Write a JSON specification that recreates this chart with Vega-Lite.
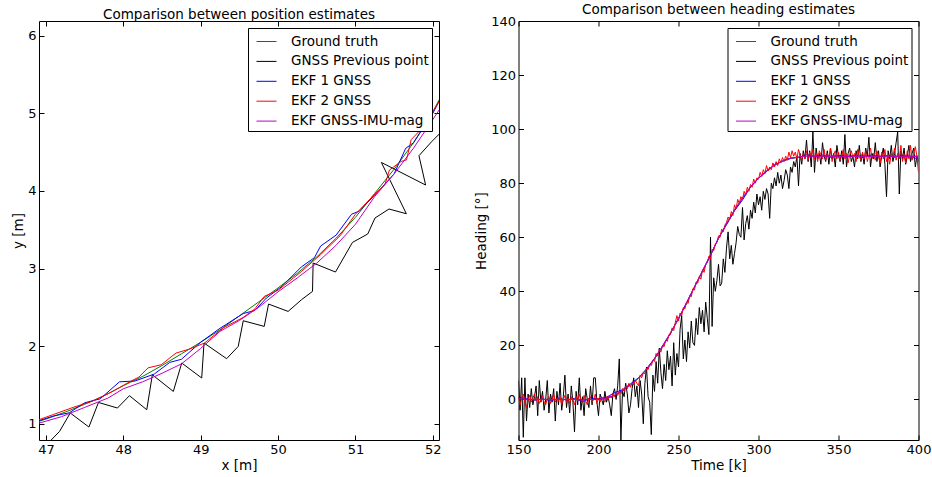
{
"$schema": "https://vega.github.io/schema/vega-lite/v6.json",
"padding": {"left": 10, "top": 2, "right": 5, "bottom": 5},
"background": "white",
"config": {
  "font": "DejaVu Sans",
  "view": {"stroke": "black", "strokeWidth": 1},
  "axis": {"domain": false, "grid": false, "tickColor": "black", "tickSize": -5, "tickWidth": 1, "labelPadding": 8, "labelFontSize": 13, "labelColor": "black", "labelFont": "DejaVu Sans", "titleFont": "DejaVu Sans", "titleFontSize": 13.5, "titleFontWeight": "normal", "titleColor": "black", "titlePadding": 2.5, "labelFlush": false, "labelOverlap": false},
  "title": {"fontSize": 13.5, "fontWeight": "normal", "color": "black", "font": "DejaVu Sans", "offset": -1, "frame": "group", "baseline": "alphabetic"},
  "legend": {"orient": "top-right", "offset": 7, "padding": 3, "rowPadding": 2.9, "symbolType": "stroke", "symbolSize": 400, "symbolStrokeWidth": 1, "symbolOffset": 5, "labelOffset": 14, "labelFontSize": 13.5, "labelFont": "DejaVu Sans", "labelColor": "black", "strokeColor": "black", "fillColor": "white", "cornerRadius": 0, "title": null}
},
"spacing": 28.5,
"resolve": {"scale": {"color": "independent"}, "legend": {"color": "independent"}},
"hconcat": [
{
  "width": 400, "height": 419,
  "title": "Comparison between position estimates",
  "data": {"values": [
    {"s":"g","i":0,"x":46.85,"y":1.01},{"s":"g","i":1,"x":47.0,"y":1.06},{"s":"g","i":2,"x":47.25,"y":1.15},{"s":"g","i":3,"x":47.5,"y":1.25},{"s":"g","i":4,"x":47.75,"y":1.36},{"s":"g","i":5,"x":48.0,"y":1.49},{"s":"g","i":6,"x":48.25,"y":1.61},{"s":"g","i":7,"x":48.5,"y":1.75},{"s":"g","i":8,"x":48.75,"y":1.9},{"s":"g","i":9,"x":49.0,"y":2.05},{"s":"g","i":10,"x":49.25,"y":2.21},{"s":"g","i":11,"x":49.5,"y":2.39},{"s":"g","i":12,"x":49.75,"y":2.57},{"s":"g","i":13,"x":50.0,"y":2.75},{"s":"g","i":14,"x":50.25,"y":2.94},{"s":"g","i":15,"x":50.5,"y":3.15},{"s":"g","i":16,"x":50.75,"y":3.39},{"s":"g","i":17,"x":51.0,"y":3.66},{"s":"g","i":18,"x":51.25,"y":3.97},{"s":"g","i":19,"x":51.5,"y":4.28},{"s":"g","i":20,"x":51.75,"y":4.62},{"s":"g","i":21,"x":52.0,"y":5.02},{"s":"g","i":22,"x":52.15,"y":5.3},
    {"s":"k","i":30,"x":46.98,"y":0.7},{"s":"k","i":31,"x":47.175,"y":0.9},{"s":"k","i":32,"x":47.314,"y":1.138},{"s":"k","i":33,"x":47.555,"y":0.957},{"s":"k","i":34,"x":47.679,"y":1.274},{"s":"k","i":35,"x":47.924,"y":1.202},{"s":"k","i":36,"x":48.079,"y":1.361},{"s":"k","i":37,"x":48.303,"y":1.18},{"s":"k","i":38,"x":48.375,"y":1.631},{"s":"k","i":39,"x":48.646,"y":1.416},{"s":"k","i":40,"x":48.755,"y":1.782},{"s":"k","i":41,"x":49.013,"y":1.589},{"s":"k","i":42,"x":49.043,"y":2.04},{"s":"k","i":43,"x":49.335,"y":1.838},{"s":"k","i":44,"x":49.485,"y":1.996},{"s":"k","i":45,"x":49.55,"y":2.327},{"s":"k","i":46,"x":49.821,"y":2.254},{"s":"k","i":47,"x":49.877,"y":2.542},{"s":"k","i":48,"x":50.13,"y":2.447},{"s":"k","i":49,"x":50.303,"y":2.598},{"s":"k","i":50,"x":50.445,"y":2.705},{"s":"k","i":51,"x":50.453,"y":3.071},{"s":"k","i":52,"x":50.742,"y":2.955},{"s":"k","i":53,"x":50.961,"y":3.336},{"s":"k","i":54,"x":51.159,"y":3.445},{"s":"k","i":55,"x":51.253,"y":3.651},{"s":"k","i":56,"x":51.434,"y":3.767},{"s":"k","i":57,"x":51.658,"y":3.706},{"s":"k","i":58,"x":51.335,"y":4.367},{"s":"k","i":59,"x":51.907,"y":4.076},{"s":"k","i":60,"x":51.821,"y":4.454},{"s":"k","i":61,"x":51.988,"y":4.638},{"s":"k","i":62,"x":52.1,"y":4.75},
    {"s":"b","i":70,"x":46.85,"y":1.02},{"s":"b","i":71,"x":47.1,"y":1.1},{"s":"b","i":72,"x":47.3,"y":1.14},{"s":"b","i":73,"x":47.5,"y":1.27},{"s":"b","i":74,"x":47.7,"y":1.32},{"s":"b","i":75,"x":47.95,"y":1.54},{"s":"b","i":76,"x":48.15,"y":1.55},{"s":"b","i":77,"x":48.4,"y":1.64},{"s":"b","i":78,"x":48.6,"y":1.79},{"s":"b","i":79,"x":48.75,"y":1.83},{"s":"b","i":80,"x":49.0,"y":2.05},{"s":"b","i":81,"x":49.25,"y":2.23},{"s":"b","i":82,"x":49.55,"y":2.42},{"s":"b","i":83,"x":49.7,"y":2.46},{"s":"b","i":84,"x":49.85,"y":2.62},{"s":"b","i":85,"x":50.05,"y":2.77},{"s":"b","i":86,"x":50.3,"y":3.02},{"s":"b","i":87,"x":50.47,"y":3.14},{"s":"b","i":88,"x":50.55,"y":3.29},{"s":"b","i":89,"x":50.75,"y":3.43},{"s":"b","i":90,"x":50.95,"y":3.7},{"s":"b","i":91,"x":51.05,"y":3.74},{"s":"b","i":92,"x":51.3,"y":4.0},{"s":"b","i":93,"x":51.5,"y":4.22},{"s":"b","i":94,"x":51.65,"y":4.55},{"s":"b","i":95,"x":51.75,"y":4.62},{"s":"b","i":96,"x":52.0,"y":5.0},{"s":"b","i":97,"x":52.12,"y":5.23},
    {"s":"r","i":100,"x":46.85,"y":1.03},{"s":"r","i":101,"x":47.1,"y":1.12},{"s":"r","i":102,"x":47.35,"y":1.21},{"s":"r","i":103,"x":47.6,"y":1.29},{"s":"r","i":104,"x":47.85,"y":1.41},{"s":"r","i":105,"x":48.1,"y":1.55},{"s":"r","i":106,"x":48.2,"y":1.6},{"s":"r","i":107,"x":48.32,"y":1.72},{"s":"r","i":108,"x":48.49,"y":1.76},{"s":"r","i":109,"x":48.68,"y":1.91},{"s":"r","i":110,"x":48.85,"y":1.96},{"s":"r","i":111,"x":49.05,"y":2.04},{"s":"r","i":112,"x":49.3,"y":2.24},{"s":"r","i":113,"x":49.55,"y":2.37},{"s":"r","i":114,"x":49.7,"y":2.48},{"s":"r","i":115,"x":49.82,"y":2.64},{"s":"r","i":116,"x":50.0,"y":2.72},{"s":"r","i":117,"x":50.2,"y":2.88},{"s":"r","i":118,"x":50.3,"y":2.96},{"s":"r","i":119,"x":50.55,"y":3.18},{"s":"r","i":120,"x":50.8,"y":3.42},{"s":"r","i":121,"x":51.0,"y":3.7},{"s":"r","i":122,"x":51.25,"y":3.96},{"s":"r","i":123,"x":51.38,"y":4.08},{"s":"r","i":124,"x":51.44,"y":4.27},{"s":"r","i":125,"x":51.59,"y":4.38},{"s":"r","i":126,"x":51.66,"y":4.4},{"s":"r","i":127,"x":51.72,"y":4.66},{"s":"r","i":128,"x":51.9,"y":4.85},{"s":"r","i":129,"x":52.12,"y":5.22},
    {"s":"m","i":130,"x":46.85,"y":0.99},{"s":"m","i":131,"x":47.2,"y":1.09},{"s":"m","i":132,"x":47.5,"y":1.21},{"s":"m","i":133,"x":47.8,"y":1.33},{"s":"m","i":134,"x":48.0,"y":1.45},{"s":"m","i":135,"x":48.25,"y":1.54},{"s":"m","i":136,"x":48.5,"y":1.65},{"s":"m","i":137,"x":48.75,"y":1.77},{"s":"m","i":138,"x":49.0,"y":1.97},{"s":"m","i":139,"x":49.25,"y":2.19},{"s":"m","i":140,"x":49.5,"y":2.33},{"s":"m","i":141,"x":49.75,"y":2.5},{"s":"m","i":142,"x":50.0,"y":2.7},{"s":"m","i":143,"x":50.25,"y":2.88},{"s":"m","i":144,"x":50.5,"y":3.07},{"s":"m","i":145,"x":50.75,"y":3.3},{"s":"m","i":146,"x":51.0,"y":3.57},{"s":"m","i":147,"x":51.25,"y":3.93},{"s":"m","i":148,"x":51.5,"y":4.22},{"s":"m","i":149,"x":51.75,"y":4.55},{"s":"m","i":150,"x":52.0,"y":4.92},{"s":"m","i":151,"x":52.12,"y":5.1}
  ]},
  "layer": [
    {"mark": {"type": "line", "strokeWidth": 1, "clip": true},
     "encoding": {
       "x": {"field": "x", "type": "quantitative", "scale": {"domain": [46.91, 52.08], "nice": false, "zero": false}, "axis": {"title": "x [m]", "values": [47,48,49,50,51,52], "format": "d"}},
       "y": {"field": "y", "type": "quantitative", "scale": {"domain": [0.79, 6.19], "nice": false, "zero": false}, "axis": {"title": "y [m]", "values": [1,2,3,4,5,6], "format": "d"}},
       "color": {"field": "s", "type": "nominal", "scale": {"domain": ["g","k","b","r","m"], "range": ["#008000","#000000","#0000ff","#ff0000","#bf00bf"]},
                 "legend": {"labelExpr": "datum.label == 'g' ? 'Ground truth' : datum.label == 'k' ? 'GNSS Previous point' : datum.label == 'b' ? 'EKF 1 GNSS' : datum.label == 'r' ? 'EKF 2 GNSS' : 'EKF GNSS-IMU-mag'"}},
       "order": {"field": "i", "type": "quantitative"}
     }},
    {"mark": {"type": "line", "opacity": 0},
     "encoding": {
       "x": {"field": "x", "type": "quantitative", "axis": {"orient": "top", "labels": false, "title": null, "values": [47,48,49,50,51,52]}},
       "y": {"field": "y", "type": "quantitative", "axis": {"orient": "right", "labels": false, "title": null, "values": [1,2,3,4,5,6]}}
     }}
  ],
  "resolve": {"axis": {"x": "independent", "y": "independent"}}
},
{
  "width": 400, "height": 419,
  "title": "Comparison between heading estimates",
  "layer": [
    {
      "layer": [
        {"data": {"name": "hs"}, "mark": {"type": "line", "strokeWidth": 1, "clip": true},
         "encoding": {"x": {"field": "t", "type": "quantitative"}, "y": {"field": "g", "type": "quantitative"}, "color": {"datum": "Ground truth"}}},
        {"data": {"name": "hd"}, "mark": {"type": "line", "strokeWidth": 1, "clip": true},
         "encoding": {"x": {"field": "t", "type": "quantitative"}, "y": {"field": "k", "type": "quantitative"}, "color": {"datum": "GNSS Previous point"}}},
        {"data": {"name": "hs"}, "mark": {"type": "line", "strokeWidth": 1, "clip": true},
         "encoding": {"x": {"field": "t", "type": "quantitative"}, "y": {"field": "b", "type": "quantitative"}, "color": {"datum": "EKF 1 GNSS"}}},
        {"data": {"name": "hd"}, "mark": {"type": "line", "strokeWidth": 1, "clip": true},
         "encoding": {"x": {"field": "t", "type": "quantitative"}, "y": {"field": "r", "type": "quantitative"}, "color": {"datum": "EKF 2 GNSS"}}},
        {"data": {"name": "hs"}, "mark": {"type": "line", "strokeWidth": 1, "clip": true},
         "encoding": {"x": {"field": "t", "type": "quantitative", "scale": {"domain": [150, 400], "nice": false, "zero": false}, "axis": {"title": "Time [k]", "values": [150,200,250,300,350,400], "format": "d"}},
                      "y": {"field": "m", "type": "quantitative", "scale": {"domain": [-15, 140], "nice": false, "zero": false}, "axis": {"title": "Heading [°]", "values": [0,20,40,60,80,100,120,140], "format": "d"}},
                      "color": {"datum": "EKF GNSS-IMU-mag", "type": "nominal", "scale": {"domain": ["Ground truth","GNSS Previous point","EKF 1 GNSS","EKF 2 GNSS","EKF GNSS-IMU-mag"], "range": ["#008000","#000000","#0000ff","#ff0000","#bf00bf"]}, "legend": {}}}}
      ]
    },
    {"data": {"name": "hs"}, "mark": {"type": "line", "opacity": 0},
     "encoding": {
       "x": {"field": "t", "type": "quantitative", "axis": {"orient": "top", "labels": false, "title": null, "values": [150,200,250,300,350,400]}},
       "y": {"field": "m", "type": "quantitative", "axis": {"orient": "right", "labels": false, "title": null, "values": [0,20,40,60,80,100,120,140]}}
     }}
  ],
  "resolve": {"axis": {"x": "independent", "y": "independent"}}
}
],
"datasets": {
"hs": [
{"t":150,"g":0,"b":0.8,"m":0.2},{"t":155,"g":0,"b":0.3,"m":0.1},{"t":160,"g":0,"b":-0.3,"m":0},{"t":165,"g":0,"b":0.2,"m":0},{"t":170,"g":0,"b":-0.4,"m":0},{"t":175,"g":0,"b":0.3,"m":0},{"t":180,"g":0,"b":-0.2,"m":0},{"t":185,"g":0,"b":0.4,"m":0},{"t":190,"g":0,"b":-0.8,"m":-0.2},{"t":195,"g":0,"b":0.5,"m":0},{"t":200,"g":0,"b":0.2,"m":0},{"t":205,"g":0.3,"b":0.8,"m":0.5},{"t":210,"g":1.5,"b":2.5,"m":1.6},{"t":215,"g":3.3,"b":3.6,"m":3.3},{"t":220,"g":5.3,"b":5.8,"m":5.4},{"t":225,"g":7.8,"b":8.0,"m":7.9},{"t":230,"g":11,"b":11.3,"m":11.1},{"t":235,"g":15,"b":15.2,"m":15.1},{"t":240,"g":19.5,"b":19.8,"m":19.6},{"t":245,"g":24.5,"b":24.6,"m":24.6},{"t":250,"g":29.8,"b":30,"m":29.9},{"t":255,"g":35.5,"b":35.8,"m":35.6},{"t":260,"g":41.5,"b":41.7,"m":41.6},{"t":265,"g":47.5,"b":47.5,"m":47.6},{"t":270,"g":53.5,"b":53.2,"m":53.6},{"t":275,"g":59.5,"b":59.8,"m":59.6},{"t":280,"g":65,"b":64.6,"m":65.1},{"t":285,"g":70,"b":69.8,"m":70.1},{"t":290,"g":74.5,"b":73.8,"m":74.6},{"t":295,"g":78.5,"b":78.6,"m":78.6},{"t":300,"g":81.8,"b":81.8,"m":81.9},{"t":305,"g":84.5,"b":84.3,"m":84.6},{"t":310,"g":86.6,"b":86.8,"m":86.7},{"t":315,"g":88.1,"b":88.2,"m":88.2},{"t":320,"g":89.1,"b":89.3,"m":89.2},{"t":325,"g":89.7,"b":89.5,"m":89.7},{"t":330,"g":90,"b":90.6,"m":90},{"t":335,"g":90,"b":89.8,"m":89.9},{"t":340,"g":90,"b":90.4,"m":89.9},{"t":345,"g":90,"b":89.6,"m":89.9},{"t":350,"g":90,"b":90.3,"m":89.9},{"t":355,"g":90,"b":89.7,"m":89.9},{"t":360,"g":90,"b":90.2,"m":89.9},{"t":365,"g":90,"b":89.5,"m":89.9},{"t":370,"g":90,"b":90.4,"m":89.9},{"t":375,"g":90,"b":89.8,"m":89.9},{"t":380,"g":90,"b":90.2,"m":89.9},{"t":385,"g":90,"b":89.6,"m":89.9},{"t":390,"g":90,"b":90.3,"m":89.9},{"t":395,"g":90,"b":89.7,"m":89.9},{"t":400,"g":90,"b":89,"m":89.9}
],
"hd": [
{"t":150,"k":7,"r":1},{"t":151,"k":-4,"r":-2},{"t":152,"k":8,"r":0.5},{"t":153,"k":-14,"r":2},{"t":154,"k":8,"r":-1},{"t":155,"k":-8,"r":-3},{"t":156,"k":2,"r":0},{"t":157,"k":-3,"r":1.5},{"t":158,"k":4,"r":-1},{"t":159,"k":-2,"r":0.5},
{"t":160,"k":1,"r":2},{"t":161,"k":5,"r":-0.5},{"t":162,"k":-6,"r":1},{"t":163,"k":7,"r":-1.5},{"t":164,"k":-1,"r":0},{"t":165,"k":3,"r":1.5},{"t":166,"k":-4,"r":-1},{"t":167,"k":0,"r":-2},{"t":168,"k":7,"r":0.5},{"t":169,"k":-5,"r":1},
{"t":170,"k":2,"r":-1.5},{"t":171,"k":-1,"r":0},{"t":172,"k":4,"r":2},{"t":173,"k":-8,"r":-1},{"t":174,"k":3,"r":0.5},{"t":175,"k":-2,"r":-0.5},{"t":176,"k":6,"r":1},{"t":177,"k":-4,"r":-2},{"t":178,"k":1,"r":0},{"t":179,"k":9,"r":1.5},
{"t":180,"k":-3,"r":-1},{"t":181,"k":2,"r":0.5},{"t":182,"k":-5,"r":-1.5},{"t":183,"k":5,"r":1},{"t":184,"k":-1,"r":0},{"t":185,"k":-12,"r":-2},{"t":186,"k":3,"r":1},{"t":187,"k":-2,"r":-0.5},{"t":188,"k":8,"r":2},{"t":189,"k":-4,"r":0},
{"t":190,"k":1,"r":-1},{"t":191,"k":-6,"r":1.5},{"t":192,"k":4,"r":-0.5},{"t":193,"k":0,"r":-2},{"t":194,"k":-3,"r":0.5},{"t":195,"k":5,"r":1},{"t":196,"k":-2,"r":-1},{"t":197,"k":8,"r":0},{"t":198,"k":8,"r":2},{"t":199,"k":-1,"r":-1.5},
{"t":200,"k":-6,"r":0.5},{"t":201,"k":2,"r":-1},{"t":202,"k":0,"r":1},{"t":203,"k":-2,"r":0},{"t":204,"k":3,"r":-1},{"t":205,"k":-1,"r":1},{"t":206,"k":1,"r":0},{"t":207,"k":-2,"r":1.5},{"t":208,"k":-6,"r":0.5},{"t":209,"k":2,"r":2},
{"t":210,"k":4,"r":1},{"t":211,"k":0,"r":2.5},{"t":212,"k":5,"r":1.5},{"t":213,"k":15,"r":3},{"t":214,"k":-15,"r":2},{"t":215,"k":3,"r":4},{"t":216,"k":1,"r":3},{"t":217,"k":6,"r":5},{"t":218,"k":2,"r":4},{"t":219,"k":-5,"r":6},
{"t":220,"k":-2,"r":4.5},{"t":221,"k":4,"r":6},{"t":222,"k":8,"r":5.5},{"t":223,"k":1,"r":7},{"t":224,"k":5,"r":6},{"t":225,"k":-3,"r":5},{"t":226,"k":7,"r":9},{"t":227,"k":2,"r":8},{"t":228,"k":-9,"r":10},{"t":229,"k":6,"r":9.5},
{"t":230,"k":12,"r":11.5},{"t":231,"k":1,"r":11},{"t":232,"k":-1,"r":13},{"t":233,"k":-13,"r":12.5},{"t":234,"k":9,"r":14.5},{"t":235,"k":3,"r":14},{"t":236,"k":14,"r":17},{"t":237,"k":6,"r":16},{"t":238,"k":19,"r":18.5},{"t":239,"k":10,"r":17.5},
{"t":240,"k":4,"r":20},{"t":241,"k":13,"r":19.5},{"t":242,"k":7,"r":22},{"t":243,"k":18,"r":21.5},{"t":244,"k":11,"r":24},{"t":245,"k":16,"r":24},{"t":246,"k":5,"r":26.5},{"t":247,"k":21,"r":25.5},{"t":248,"k":9,"r":28.5},{"t":249,"k":17,"r":31},
{"t":250,"k":12,"r":29},{"t":251,"k":26,"r":32},{"t":252,"k":31,"r":31},{"t":253,"k":15,"r":34},{"t":254,"k":22,"r":33.5},{"t":255,"k":14,"r":36},{"t":256,"k":25,"r":35.5},{"t":257,"k":19,"r":38.5},{"t":258,"k":29,"r":38},{"t":259,"k":21,"r":41},
{"t":260,"k":20,"r":40.5},{"t":261,"k":30,"r":43.5},{"t":262,"k":24,"r":43},{"t":263,"k":34,"r":45.5},{"t":264,"k":28,"r":44.5},{"t":265,"k":33,"r":48},{"t":266,"k":25,"r":47},{"t":267,"k":36,"r":50},{"t":268,"k":30,"r":50.5},{"t":269,"k":24,"r":53},
{"t":270,"k":60,"r":52},{"t":271,"k":27,"r":55.5},{"t":272,"k":45,"r":55},{"t":273,"k":40,"r":57.5},{"t":274,"k":44,"r":58},{"t":275,"k":50,"r":60.5},{"t":276,"k":42,"r":60},{"t":277,"k":43,"r":63},{"t":278,"k":52,"r":62},{"t":279,"k":47,"r":64.5},
{"t":280,"k":56,"r":65.5},{"t":281,"k":62,"r":67.5},{"t":282,"k":52,"r":66.5},{"t":283,"k":57,"r":69.5},{"t":284,"k":50,"r":68},{"t":285,"k":54,"r":72},{"t":286,"k":58,"r":70.5},{"t":287,"k":64,"r":74},{"t":288,"k":61,"r":72.5},{"t":289,"k":60,"r":75},
{"t":290,"k":71,"r":74},{"t":291,"k":59,"r":77},{"t":292,"k":65,"r":75.5},{"t":293,"k":68,"r":78.5},{"t":294,"k":63,"r":77},{"t":295,"k":70,"r":79.5},{"t":296,"k":67,"r":78.5},{"t":297,"k":73,"r":81.5},{"t":298,"k":69,"r":80},{"t":299,"k":76,"r":82},
{"t":300,"k":72,"r":81.5},{"t":301,"k":75,"r":84},{"t":302,"k":70,"r":82.5},{"t":303,"k":77,"r":85},{"t":304,"k":74,"r":83.5},{"t":305,"k":78,"r":86.5},{"t":306,"k":76,"r":84.5},{"t":307,"k":67,"r":86},{"t":308,"k":80,"r":85},{"t":309,"k":78,"r":87.5},
{"t":310,"k":82,"r":86},{"t":311,"k":79,"r":88},{"t":312,"k":84,"r":86.5},{"t":313,"k":80,"r":89},{"t":314,"k":83,"r":87.5},{"t":315,"k":78,"r":89.5},{"t":316,"k":81,"r":88},{"t":317,"k":85,"r":90},{"t":318,"k":83,"r":88.5},{"t":319,"k":78,"r":91.5},
{"t":320,"k":86,"r":89.5},{"t":321,"k":84,"r":92},{"t":322,"k":88,"r":90},{"t":323,"k":86,"r":91.5},{"t":324,"k":90,"r":89},{"t":325,"k":79,"r":92.5},{"t":326,"k":91,"r":90.5},{"t":327,"k":87,"r":88.5},{"t":328,"k":92,"r":91},{"t":329,"k":89,"r":89},
{"t":330,"k":96,"r":92},{"t":331,"k":88,"r":88.5},{"t":332,"k":92,"r":91.5},{"t":333,"k":86,"r":90},{"t":334,"k":99,"r":92.5},{"t":335,"k":84,"r":89},{"t":336,"k":93,"r":91},{"t":337,"k":89,"r":88},{"t":338,"k":91,"r":92},{"t":339,"k":87,"r":90.5},
{"t":340,"k":95,"r":89},{"t":341,"k":90,"r":92.5},{"t":342,"k":88,"r":88.5},{"t":343,"k":92,"r":91},{"t":344,"k":87,"r":89.5},{"t":345,"k":93,"r":93},{"t":346,"k":89,"r":88},{"t":347,"k":91,"r":90.5},{"t":348,"k":86,"r":92},{"t":349,"k":94,"r":89},
{"t":350,"k":90,"r":91.5},{"t":351,"k":88,"r":88.5},{"t":352,"k":92,"r":90},{"t":353,"k":87,"r":92.5},{"t":354,"k":98,"r":89},{"t":355,"k":86,"r":91},{"t":356,"k":91,"r":87.5},{"t":357,"k":93,"r":90.5},{"t":358,"k":88,"r":92},{"t":359,"k":90,"r":89.5},
{"t":360,"k":86,"r":91},{"t":361,"k":92,"r":88},{"t":362,"k":89,"r":92.5},{"t":363,"k":94,"r":90},{"t":364,"k":88,"r":88.5},{"t":365,"k":91,"r":91.5},{"t":366,"k":87,"r":89},{"t":367,"k":93,"r":92},{"t":368,"k":90,"r":88},{"t":369,"k":97,"r":90.5},
{"t":370,"k":86,"r":93},{"t":371,"k":91,"r":89},{"t":372,"k":89,"r":91},{"t":373,"k":95,"r":88.5},{"t":374,"k":88,"r":92},{"t":375,"k":92,"r":90},{"t":376,"k":86,"r":87.5},{"t":377,"k":90,"r":91.5},{"t":378,"k":93,"r":89},{"t":379,"k":87,"r":92.5},
{"t":380,"k":75,"r":88},{"t":381,"k":92,"r":90.5},{"t":382,"k":89,"r":87},{"t":383,"k":94,"r":91},{"t":384,"k":88,"r":89.5},{"t":385,"k":91,"r":93},{"t":386,"k":95,"r":88.5},{"t":387,"k":99,"r":91},{"t":388,"k":76,"r":89},{"t":389,"k":92,"r":94},
{"t":390,"k":89,"r":88},{"t":391,"k":93,"r":90.5},{"t":392,"k":87,"r":87.5},{"t":393,"k":90,"r":92},{"t":394,"k":94,"r":89},{"t":395,"k":88,"r":94},{"t":396,"k":91,"r":88.5},{"t":397,"k":93,"r":91},{"t":398,"k":86,"r":93.5},{"t":399,"k":90,"r":90},{"t":400,"k":88,"r":84}
]
}
}
